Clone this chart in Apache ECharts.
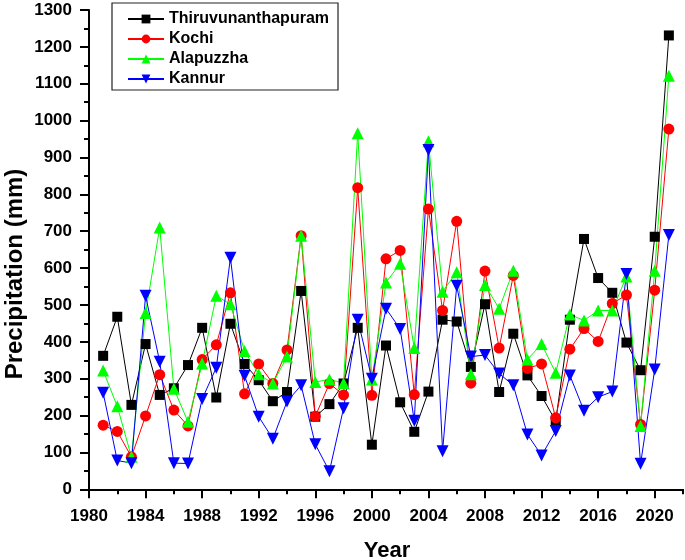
<!DOCTYPE html>
<html>
<head>
<meta charset="utf-8">
<script src="https://cdn.jsdelivr.net/npm/echarts@6/dist/echarts.min.js"></script>
<style>
html,body{margin:0;padding:0;background:#fff;}
#c{width:685px;height:560px;}
</style>
</head>
<body>
<div id="c"></div>
<script>
const years = [1981,1982,1983,1984,1985,1986,1987,1988,1989,1990,1991,1992,1993,1994,1995,1996,1997,1998,1999,2000,2001,2002,2003,2004,2005,2006,2007,2008,2009,2010,2011,2012,2013,2014,2015,2016,2017,2018,2019,2020,2021];
const thiruvunanthapuram = [362,468,229,394,256,274,337,438,249,449,340,296,239,264,538,197,231,287,438,121,390,236,156,265,460,455,332,502,264,422,309,253,185,460,679,573,533,398,323,685,1231];
const kochi = [174,157,88,199,311,215,172,352,392,533,259,340,287,378,688,198,287,256,818,255,625,648,257,760,485,727,288,592,383,580,328,340,194,380,436,401,504,527,176,540,977];
const alapuzzha = [322,225,88,478,710,273,183,341,525,502,375,312,287,360,688,291,298,288,966,298,561,612,383,944,536,589,312,554,490,593,352,394,316,474,458,485,485,577,172,593,1122];
const kannur = [262,78,71,525,346,71,70,245,330,628,308,197,137,238,282,122,49,220,460,300,490,435,186,920,103,552,360,364,314,282,149,92,158,309,213,250,265,584,69,325,690];
const seriesNames = ['Thiruvunanthapuram','Kochi','Alapuzzha','Kannur'];
const xMajorTicks = [1980,1984,1988,1992,1996,2000,2004,2008,2012,2016,2020];
const xMinorTicks = [1982,1986,1990,1994,1998,2002,2006,2010,2014,2018,2022];
const yMajorTicks = [0,100,200,300,400,500,600,700,800,900,1000,1100,1200,1300];
const yMinorTicks = [50,150,250,350,450,550,650,750,850,950,1050,1150,1250];

const font = '"Liberation Sans", Arial, sans-serif';
const pair = (arr) => years.map((y, i) => [y, arr[i]]);
const plain = (v) => String(v);

const chart = echarts.init(document.getElementById('c'), null, {renderer: 'canvas'});
const baseX = {
  type: 'value', min: 1980, max: 2022, gridIndex: 0, position: 'bottom',
  splitLine: {show: false}
};
const baseY = {
  type: 'value', min: -10, max: 1300, gridIndex: 0, position: 'left',
  splitLine: {show: false}
};
function mk(name, data, color, symbol, size, rotate) {
  return {
    name: name, type: 'line', data: pair(data),
    symbol: symbol, symbolSize: size, symbolRotate: rotate || 0,
    lineStyle: {color: color, width: 1},
    itemStyle: {color: color},
    color: color,
    emphasis: {disabled: true},
    animation: false, z: 2
  };
}
chart.setOption({
  animation: false,
  backgroundColor: '#fff',
  grid: {left: 89, right: 2, top: 10, bottom: 67, containLabel: false},
  xAxis: [
    Object.assign({}, baseX, {
      axisLine: {show: true, lineStyle: {color: '#000', width: 2}},
      axisTick: {show: true, inside: false, length: 9, lineStyle: {color: '#000', width: 2}, customValues: xMajorTicks},
      axisLabel: {show: true, margin: 15, customValues: xMajorTicks, formatter: plain, color: '#000', fontFamily: font, fontWeight: 'bold', fontSize: 17}
    }),
    Object.assign({}, baseX, {
      axisLine: {show: false},
      axisTick: {show: true, inside: false, length: 5, lineStyle: {color: '#000', width: 2}, customValues: xMinorTicks},
      axisLabel: {show: false}
    })
  ],
  yAxis: [
    Object.assign({}, baseY, {
      axisLine: {show: true, lineStyle: {color: '#000', width: 2}},
      axisTick: {show: true, inside: false, length: 9, lineStyle: {color: '#000', width: 2}, customValues: yMajorTicks},
      axisLabel: {show: true, margin: 17, customValues: yMajorTicks, formatter: plain, color: '#000', fontFamily: font, fontWeight: 'bold', fontSize: 17}
    }),
    Object.assign({}, baseY, {
      axisLine: {show: false},
      axisTick: {show: true, inside: false, length: 5, lineStyle: {color: '#000', width: 2}, customValues: yMinorTicks},
      axisLabel: {show: false}
    })
  ],
  legend: {
    show: true, orient: 'vertical', left: 112, top: 3,
    padding: [8, 9, 3, 15],
    itemWidth: 36, itemHeight: 11, itemGap: 4,
    borderColor: '#222', borderWidth: 1.2,
    backgroundColor: '#fff',
    textStyle: {color: '#000', fontFamily: font, fontWeight: 'bold', fontSize: 16},
    data: seriesNames
  },
  graphic: [
    {type: 'text', x: 387, y: 540, style: {text: 'Year', font: 'bold 22px ' + font, fill: '#000', align: 'center', verticalAlign: 'top'}},
    {type: 'text', x: 3, y: 274, rotation: Math.PI / 2, style: {text: 'Precipitation (mm)', font: 'bold 24px ' + font, fill: '#000', align: 'center', verticalAlign: 'top'}}
  ],
  series: [
    mk(seriesNames[0], thiruvunanthapuram, '#000000', 'rect', 10),
    mk(seriesNames[1], kochi, '#ff0000', 'circle', 11),
    mk(seriesNames[2], alapuzzha, '#00ff00', 'triangle', 12),
    mk(seriesNames[3], kannur, '#0000ff', 'triangle', 12, 180)
  ]
});
</script>
</body>
</html>
